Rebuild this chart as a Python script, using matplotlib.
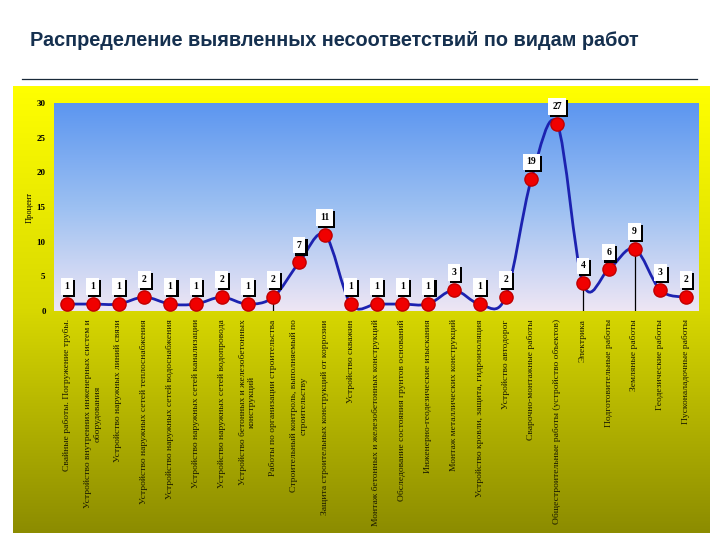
import numpy as np
import matplotlib
matplotlib.use("Agg")
import matplotlib.pyplot as plt
import matplotlib.patheffects as pe
from matplotlib.path import Path
from matplotlib.patches import PathPatch
from matplotlib.colors import LinearSegmentedColormap

# data
categories = [
    "Свайные работы. Погружение трубы.",
    "Устройство внутренних инженерных систем и\nоборудования",
    "Устройство наружных линий связи",
    "Устройство наружных сетей теплоснабжения",
    "Устройство наружных сетей водоснабжения",
    "Устройство наружных сетей канализации",
    "Устройство наружных сетей водопровода",
    "Устройство бетонных и железобетонных\nконструкций",
    "Работы по организации строительства",
    "Строительный контроль, выполняемый по\nстроительству",
    "Защита строительных конструкций от коррозии",
    "Устройство скважин",
    "Монтаж бетонных и железобетонных конструкций",
    "Обследование состояния грунтов оснований",
    "Инженерно-геодезические изыскания",
    "Монтаж металлических конструкций",
    "Устройство кровли, защита, гидроизоляция",
    "Устройство автодорог",
    "Сварочно-монтажные работы",
    "Общестроительные работы (устройство объектов)",
    "Электрика",
    "Подготовительные работы",
    "Земляные работы",
    "Геодезические работы",
    "Пусконаладочные работы",
]
values = [1, 1, 1, 2, 1, 1, 2, 1, 2, 7, 11, 1, 1, 1, 1, 3, 1, 2, 19, 27, 4, 6, 9, 3, 2]
drop_idx = [8, 20, 22]
y_ticks = [0, 5, 10, 15, 20, 25, 30]

fig = plt.figure(figsize=(7.2, 5.4), dpi=100)
W, H = 720, 540

def box(l, t, r, b):
    return [l / W, 1 - b / H, (r - l) / W, (b - t) / H]

# title + rule
fig.text(30 / W, 1 - 40 / H, "Распределение выявленных несоответствий по видам работ",
         fontsize=14.3, fontweight="bold", family="Liberation Sans", va="center",
         color="#15304f")
fig.add_artist(plt.Line2D([22 / W, 697 / W], [1 - 79 / H, 1 - 79 / H], color="#1a2a3a", lw=0.9))

# yellow frame
bg = fig.add_axes(box(13, 86, 710, 533))
ycmap = LinearSegmentedColormap.from_list("y", ["#ffff00", "#d8d800", "#8c8c00"])
bg.imshow(np.linspace(0, 1, 256).reshape(-1, 1), aspect="auto", cmap=ycmap,
          extent=[0, 1, 0, 1], origin="upper")
bg.axis("off")

ax = fig.add_axes(box(54, 103, 699, 311))
bcmap = LinearSegmentedColormap.from_list("b", ["#5c96f0", "#9cc0f2", "#eee6f4"])
ax.imshow(np.linspace(0, 1, 256).reshape(-1, 1), aspect="auto", cmap=bcmap,
          extent=[0, 1, 0, 1], origin="upper", transform=ax.transAxes, zorder=0)

x = np.arange(len(values))
y = np.array(values, dtype=float)

# smooth line (Catmull-Rom as cubic Bezier segments)
pts = np.column_stack([x, y])
verts = [pts[0]]
codes = [Path.MOVETO]
n = len(pts)
for i in range(n - 1):
    p0 = pts[max(i - 1, 0)]
    p1 = pts[i]
    p2 = pts[i + 1]
    p3 = pts[min(i + 2, n - 1)]
    c1 = p1 + (p2 - p0) / 6.0
    c2 = p2 - (p3 - p1) / 6.0
    verts += [c1, c2, p2]
    codes += [Path.CURVE4] * 3
ax.add_patch(PathPatch(Path(verts, codes), fill=False, edgecolor="#1c22b0", lw=2, zorder=3))

for i in drop_idx:
    ax.plot([x[i], x[i]], [0, y[i]], color="black", lw=0.9, zorder=2)

ax.plot(x, y, linestyle="none", marker="o", markersize=9.5, markerfacecolor="#f00000",
        markeredgecolor="#c00000", zorder=4)

for xi, yi in zip(x, values):
    t = ax.annotate(str(yi), (xi, yi), xytext=(0, 12.5), textcoords="offset points",
                    ha="center", va="center", fontsize=7, fontweight="bold",
                    family="Liberation Serif", zorder=5,
                    bbox=dict(boxstyle="square,pad=0.4", fc="white", ec="none"))
    t.get_bbox_patch().set_path_effects([
        pe.SimplePatchShadow(offset=(1.5, -1.5), shadow_rgbFace="black", alpha=1),
        pe.Normal()])

ax.set_xlim(-0.5, len(values) - 0.5)
ax.set_ylim(0, 30)
ax.set_yticks(y_ticks)
ax.set_yticklabels([str(v) for v in y_ticks], fontsize=6.5, fontweight="bold",
                   family="Liberation Serif")
ax.set_xticks(x)
ax.set_xticklabels(categories, rotation=90, fontsize=6.8, family="Liberation Serif",
                   multialignment="center", color="#1a1a00")
ax.tick_params(axis="x", length=0, pad=6)
ax.tick_params(axis="y", length=0, pad=6)
for s in ax.spines.values():
    s.set_visible(False)
ax.set_ylabel("Процент", fontsize=6, family="Liberation Serif", labelpad=2)

fig.savefig("out.png", dpi=100)
